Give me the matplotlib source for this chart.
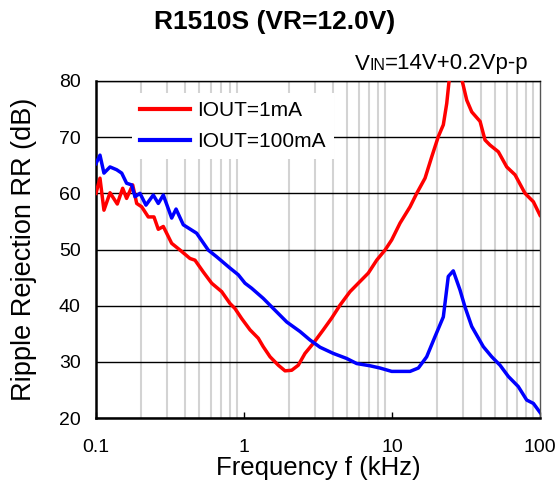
import matplotlib.pyplot as plt
from matplotlib.offsetbox import AnnotationBbox, HPacker, TextArea
from matplotlib.ticker import FixedLocator, NullFormatter

plt.rcParams["font.family"] = ["Liberation Sans", "DejaVu Sans"]

# IOUT = 1mA
freq_1ma = [0.1, 0.1064, 0.1132, 0.1244, 0.1393, 0.1515, 0.161, 0.177, 0.1884, 0.2036,
            0.2256, 0.2465, 0.2636, 0.285, 0.3246, 0.3697, 0.4318, 0.4667, 0.5309, 0.6048,
            0.7066, 0.8036, 0.8686, 0.965, 1.098, 1.249, 1.349, 1.5, 1.706, 1.893,
            2.1, 2.327, 2.583, 2.94, 3.433, 3.915, 4.455, 5.205, 5.92, 6.915,
            7.88, 8.97, 9.95, 11.33, 13.24, 14.69, 16.72, 18.55, 20.55, 22.22,
            23.43, 24.28, 26.9, 29.87, 31.98, 34.58, 39.37, 42.5, 45.9, 52.3,
            59.6, 67.8, 79.2, 90.2, 100]
rr_1ma = [60.0, 62.7, 57.0, 60.1, 58.1, 60.9, 59.1, 61.5, 58.2, 57.6,
          55.8, 55.8, 53.6, 54.1, 51.1, 49.9, 48.4, 48.1, 46.0, 44.0,
          42.5, 40.4, 39.5, 37.7, 35.7, 34.2, 32.7, 30.9, 29.4, 28.4,
          28.5, 29.4, 31.5, 33.3, 35.7, 37.8, 40.1, 42.5, 44.0, 45.8,
          48.1, 49.9, 51.7, 54.7, 57.6, 60.0, 62.7, 66.5, 70.1, 72.2,
          76.0, 79.9, 86.0, 79.9, 76.6, 74.5, 72.8, 69.5, 68.6, 67.4,
          64.7, 63.3, 60.0, 58.5, 56.1]

# IOUT = 100mA
freq_100ma = [0.1, 0.1064, 0.1132, 0.1244, 0.138, 0.1492, 0.161, 0.1742, 0.1835, 0.1983,
              0.2176, 0.2438, 0.2636, 0.285, 0.3246, 0.3476, 0.389, 0.4786, 0.5735, 0.6539,
              0.8036, 0.915, 1.016, 1.127, 1.349, 1.577, 1.944, 2.39, 2.79, 3.265,
              4.012, 4.94, 5.77, 7.1, 8.3, 9.95, 13.24, 15.07, 17.15, 19.53,
              22.22, 24.0, 25.94, 28.8, 31.1, 34.58, 41.4, 47.2, 53.7, 61.1,
              71.3, 81.3, 90.2, 100]
rr_100ma = [65.3, 66.8, 63.6, 64.7, 64.2, 63.6, 61.8, 61.5, 59.4, 60.0,
            57.9, 59.7, 58.2, 59.7, 55.6, 57.2, 54.4, 52.9, 49.9, 48.7,
            46.7, 45.5, 44.0, 43.1, 41.3, 39.5, 37.1, 35.4, 33.9, 32.6,
            31.5, 30.6, 29.7, 29.3, 28.9, 28.3, 28.3, 28.9, 30.9, 34.5,
            38.0, 45.2, 46.2, 42.8, 39.8, 36.3, 32.7, 30.9, 29.4, 27.4,
            25.6, 23.2, 22.6, 21.0]

y_ticks = [20, 30, 40, 50, 60, 70, 80]
x_ticks = [0.1, 1, 10, 100]
x_tick_labels = ["0.1", "1", "10", "100"]

fig = plt.figure(figsize=(5.6, 4.93), dpi=100)
ax = fig.add_axes([0.1714, 0.1521, 0.7929, 0.6836])

ax.plot(freq_1ma, rr_1ma, color="#ff0000", linewidth=2.5, label="IOUT=1mA", zorder=3)
ax.plot(freq_100ma, rr_100ma, color="#0000ff", linewidth=2.5, label="IOUT=100mA", zorder=3)

ax.set_xscale("log")
ax.set_xlim(0.1, 100)
ax.set_ylim(20, 80)
ax.set_yticks(y_ticks)
ax.set_xticks(x_ticks)
ax.set_xticklabels(x_tick_labels)
minor = [m * d for d in (0.1, 1, 10) for m in range(2, 10)] + [1, 10]
ax.xaxis.set_minor_locator(FixedLocator(minor))
ax.xaxis.set_minor_formatter(NullFormatter())

ax.grid(True, axis="y", which="major", color="black", linewidth=1.0, zorder=1)
ax.grid(True, axis="x", which="minor", color="#d3d3d3", linewidth=1.5, zorder=1)
ax.tick_params(axis="x", which="major", direction="in", length=4, width=1, labelsize=14, pad=15)
ax.tick_params(axis="x", which="minor", length=0)
ax.tick_params(axis="y", which="major", length=0, labelsize=14, pad=11)

for side in ("left", "bottom"):
    ax.spines[side].set_linewidth(1.8)
for side in ("top", "right"):
    ax.spines[side].set_linewidth(1.0)
ax.spines["right"].set_color("#555555")

ax.set_xlabel("Frequency f (kHz)", fontsize=18.5)
ax.set_ylabel("Ripple Rejection RR (dB)", fontsize=19.5)
ax.xaxis.set_label_coords(0.5, -0.113)
ax.yaxis.set_label_coords(-0.133, 0.5)

leg = ax.legend(loc="upper left", bbox_to_anchor=(0.081, 0.964), borderaxespad=0,
                frameon=True, fancybox=False, edgecolor="white", facecolor="white",
                framealpha=1, fontsize=15, handlelength=2.4, handletextpad=0.35,
                borderpad=0.4, labelspacing=0.55)
leg.get_frame().set_linewidth(0)
leg.set_zorder(2)
for line in leg.get_lines():
    line.set_linewidth(3)

fig.text(0.491, 0.956, "R1510S (VR=12.0V)", ha="center", va="center",
         fontsize=19, fontweight="bold")

vin = HPacker(children=[TextArea("V", textprops=dict(fontsize=16)),
                        TextArea("IN", textprops=dict(fontsize=11.5)),
                        TextArea("=14V+0.2Vp-p", textprops=dict(fontsize=16))],
              align="baseline", pad=0, sep=0)
fig.add_artist(AnnotationBbox(vin, (529 / 560, 1 - 64 / 493), xycoords="figure fraction",
                              box_alignment=(1, 0.5), frameon=False))

fig.savefig("out.png", dpi=100)
